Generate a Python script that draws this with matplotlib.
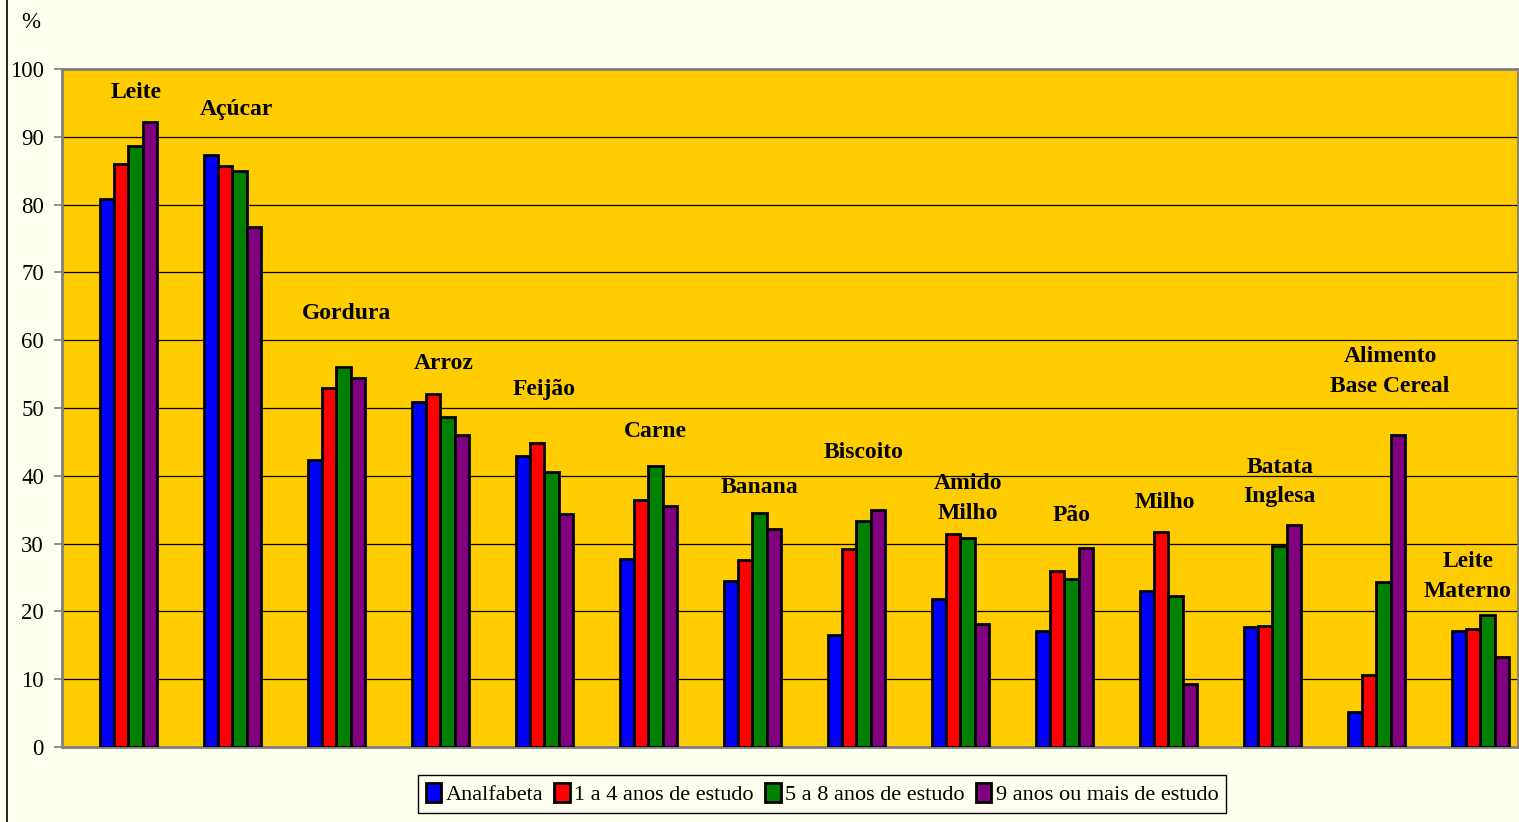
#
# Consumo de alimentos por escolaridade da mãe (%), barras agrupadas.
#

import matplotlib
matplotlib.use("Agg")
import matplotlib.pyplot as plt
import numpy as np
from matplotlib.patches import Patch

alimentos = ["Leite", "Açúcar", "Gordura", "Arroz", "Feijão", "Carne", "Banana",
             "Biscoito", "Amido\nMilho", "Pão", "Milho", "Batata\nInglesa",
             "Alimento\nBase Cereal", "Leite\nMaterno"]

series = ["Analfabeta", "1 a 4 anos de estudo", "5 a 8 anos de estudo",
          "9 anos ou mais de estudo"]

analfabeta = [80.8, 87.3, 42.3, 50.9, 42.9, 27.7, 24.5, 16.5, 21.8, 17.1, 23.0, 17.7, 5.2, 17.1]
anos_1_4 = [86.0, 85.7, 52.9, 52.1, 44.8, 36.4, 27.6, 29.2, 31.4, 26.0, 31.7, 17.8, 10.6, 17.4]
anos_5_8 = [88.6, 85.0, 56.0, 48.7, 40.6, 41.4, 34.5, 33.3, 30.8, 24.8, 22.3, 29.6, 24.3, 19.5]
anos_9_mais = [92.2, 76.7, 54.4, 46.0, 34.4, 35.5, 32.2, 35.0, 18.1, 29.4, 9.3, 32.7, 46.0, 13.3]

cores = ["#0000FF", "#FF0000", "#008000", "#800080"]

# posicao dos rotulos das categorias (altura em %, deslocamento em relacao ao grupo)
rotulo_y = [96.6, 94.0, 64.0, 56.6, 52.8, 46.6, 38.3, 43.5, 36.7, 34.2, 36.0, 39.1, 55.4, 25.1]
rotulo_dx = [0.07, 0.04, 0.10, 0.03, 0.0, 0.07, 0.07, 0.07, 0.07, 0.07, -0.03, 0.07, 0.13, -0.12]

serif = "Liberation Serif"
fundo = "#FFFFF0"

fig = plt.figure(figsize=(15.19, 8.22), dpi=100, facecolor=fundo)
ax = fig.add_axes([62 / 1519, 1 - 747 / 822, 1456 / 1519, 678 / 822])
ax.set_facecolor("#FFCC00")

x = np.arange(len(alimentos))
largura = 0.137
inicio = -0.135
centro_grupo = x + inicio + 2 * largura
valores = [analfabeta, anos_1_4, anos_5_8, anos_9_mais]
for k, (v, cor) in enumerate(zip(valores, cores)):
    ax.bar(x + inicio + largura * (k + 0.5), v, width=largura, color=cor,
           edgecolor="black", linewidth=2.0, zorder=3)

for i, nome in enumerate(alimentos):
    ax.text(centro_grupo[i] + rotulo_dx[i], rotulo_y[i], nome, ha="center", va="center",
            fontfamily=serif, fontweight="bold", fontsize=17, linespacing=1.55,
            zorder=4)

ax.set_xlim(-0.5, len(alimentos) - 0.5)
ax.set_ylim(0, 100)
ax.set_yticks(range(0, 101, 10))
ax.set_xticks([])
ax.grid(axis="y", color="black", linewidth=0.9, zorder=1)
ax.tick_params(axis="y", direction="out", length=6, width=1.2, color="#808080",
               labelsize=16.5, pad=7)
for lbl in ax.get_yticklabels():
    lbl.set_fontfamily(serif)
for s in ax.spines.values():
    s.set_color("#808080")
    s.set_linewidth(2)

fig.text(31 / 1519, 1 - 22 / 822, "%", fontfamily=serif, fontsize=16.5,
         ha="center", va="center")

# borda esquerda do quadro
fig.add_artist(plt.Line2D([7 / 1519, 7 / 1519], [0, 1], color="black",
                          linewidth=1.2, transform=fig.transFigure))

handles = [Patch(facecolor=c, edgecolor="black", linewidth=2.0, label=s)
           for c, s in zip(cores, series)]
leg = fig.legend(handles=handles, loc="center", bbox_to_anchor=(822 / 1519, 1 - 794 / 822),
                 ncol=4, frameon=True, fancybox=False, edgecolor="black",
                 facecolor=fundo, framealpha=1, handlelength=0.7, handleheight=0.9,
                 handletextpad=0.2, columnspacing=0.5, borderpad=0.35,
                 borderaxespad=0, prop={"family": serif, "size": 16})
leg.get_frame().set_linewidth(1.0)

plt.savefig("out.png", dpi=100, facecolor=fundo)
